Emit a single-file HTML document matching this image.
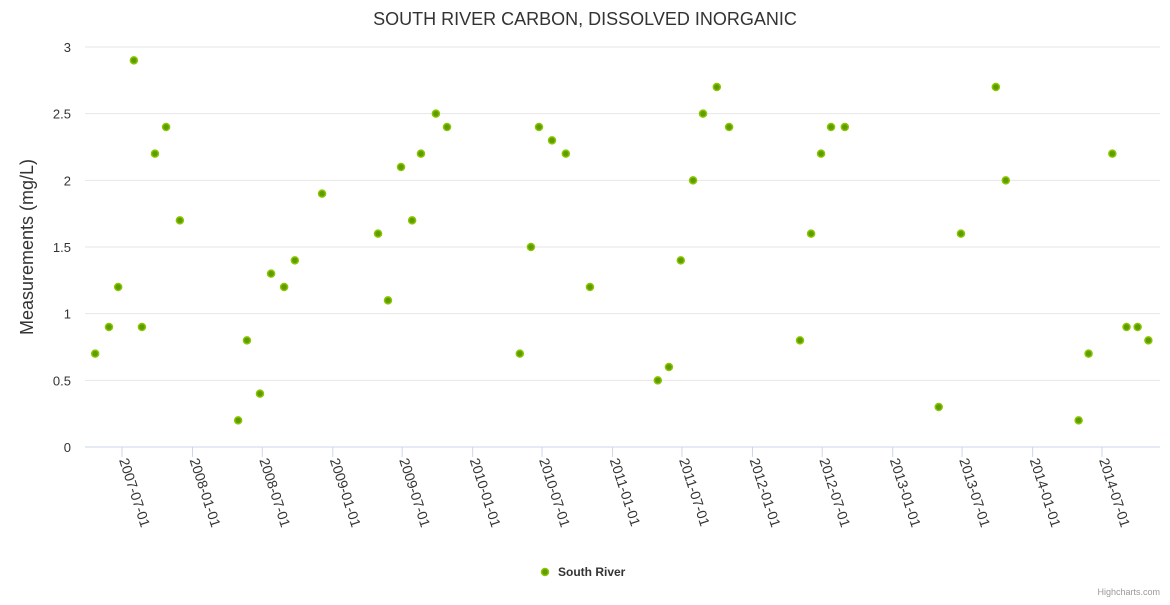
<!DOCTYPE html>
<html><head><meta charset="utf-8"><style>
body{margin:0;background:#fff;font-family:"Liberation Sans",sans-serif}
svg text{font-family:"Liberation Sans",sans-serif}
</style></head><body>
<svg id="chart" width="1170" height="600" xmlns="http://www.w3.org/2000/svg">
<rect width="1170" height="600" fill="#fff"/>
<text x="585" y="25" text-anchor="middle" font-size="18" fill="#333">SOUTH RIVER CARBON, DISSOLVED INORGANIC</text>
<text transform="translate(33,247) rotate(-90)" text-anchor="middle" font-size="18" fill="#333">Measurements (mg/L)</text>
<g id="grid"></g><g id="xaxis"></g><g id="points"></g>
<g>
<circle cx="545" cy="572" r="3.5" fill="#5c9d00" stroke="#8cc400" stroke-width="1.5"/>
<text x="558" y="576" font-size="12" font-weight="bold" fill="#333">South River</text></g>
<text x="1160" y="595" text-anchor="end" font-size="9" fill="#999">Highcharts.com</text>
</svg>
<script>
const yTicks=[0,0.5,1,1.5,2,2.5,3];
const xTicks=["2007-07-01","2008-01-01","2008-07-01","2009-01-01","2009-07-01","2010-01-01","2010-07-01","2011-01-01","2011-07-01","2012-01-01","2012-07-01","2013-01-01","2013-07-01","2014-01-01","2014-07-01"];
const dates=["2007-04-22","2007-05-28","2007-06-21","2007-08-01","2007-08-22","2007-09-25","2007-10-24","2007-11-29","2008-04-29","2008-05-22","2008-06-25","2008-07-24","2008-08-27","2008-09-24","2008-12-04","2009-04-29","2009-05-25","2009-06-28","2009-07-27","2009-08-19","2009-09-27","2009-10-26","2010-05-04","2010-06-02","2010-06-23","2010-07-27","2010-09-01","2010-11-03","2011-04-29","2011-05-28","2011-06-28","2011-07-30","2011-08-25","2011-09-30","2011-11-01","2012-05-04","2012-06-02","2012-06-28","2012-07-24","2012-08-29","2013-05-01","2013-06-28","2013-09-27","2013-10-23","2014-05-01","2014-05-27","2014-07-28","2014-09-03","2014-10-02","2014-10-30"];
const values=[0.7,0.9,1.2,2.9,0.9,2.2,2.4,1.7,0.2,0.8,0.4,1.3,1.2,1.4,1.9,1.6,1.1,2.1,1.7,2.2,2.5,2.4,0.7,1.5,2.4,2.3,2.2,1.2,0.5,0.6,1.4,2.0,2.5,2.7,2.4,0.8,1.6,2.2,2.4,2.4,0.3,1.6,2.7,2.0,0.2,0.7,2.2,0.9,0.9,0.8];
const NS="http://www.w3.org/2000/svg";
const t0=Date.parse("2007-07-01"),t1=Date.parse("2014-07-01");
function xs(d){return 122+(Date.parse(d)-t0)/(t1-t0)*980;}
function ys(v){return 447-v*133.33;}
function mk(tag,attrs,parent){const e=document.createElementNS(NS,tag);for(const k in attrs)e.setAttribute(k,attrs[k]);parent.appendChild(e);return e;}
const grid=document.getElementById('grid'),xa=document.getElementById('xaxis'),pts=document.getElementById('points');
yTicks.forEach(v=>{
 if(v>0){const l=mk('line',{x1:85,x2:1160,y1:ys(v),y2:ys(v),stroke:'#e6e6e6'},grid);
 
 }
 const t=mk('text',{x:71,y:ys(v)+5,'text-anchor':'end','font-size':13,fill:'#333'},grid);
 t.textContent=String(v);
 
 
});
const ax=mk('line',{x1:85,x2:1160,y1:447,y2:447,stroke:'#ccd6eb'},xa);


xTicks.forEach(d=>{
 const x=xs(d);
 const tk=mk('line',{x1:x,x2:x,y1:447,y2:457,stroke:'#ccd6eb'},xa);
 
 
 const t=mk('text',{transform:`translate(${x-3},${460}) rotate(72)`,'font-size':14,fill:'#333'},xa);
 t.textContent=d;
 
 
});
dates.forEach((d,i)=>{
 const c=mk('circle',{cx:xs(d),cy:ys(values[i]),r:3.5,fill:'#5c9d00',stroke:'#8cc400','stroke-width':1.5},pts);
 
 
});
</script>
</body></html>
